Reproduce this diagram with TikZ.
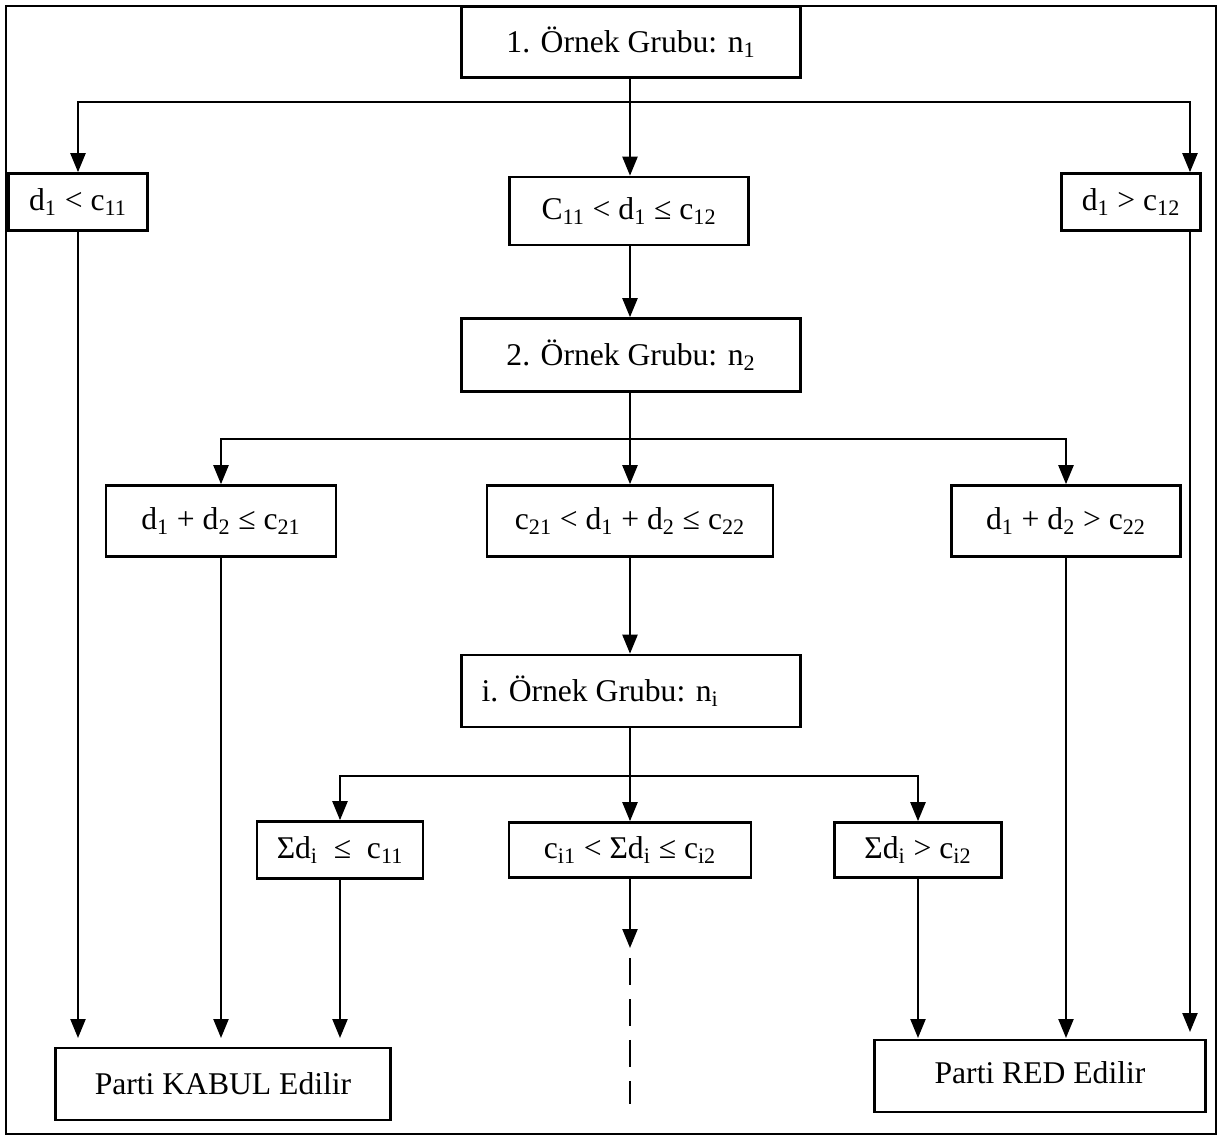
\documentclass[tikz,border=0pt]{standalone}
\usepackage{fontspec}
\setmainfont{Liberation Serif}
\usetikzlibrary{arrows.meta}

\begin{document}
\begin{tikzpicture}[
            x = 0.02cm, y = -0.02cm,
            every node/.style = {draw, line width = 1.5pt, inner sep = 0pt, font = \fontsize{18}{21}\selectfont},
            arr/.style = {line width = 1.3pt, -{Triangle[length = 0.38cm, width = 0.3cm]}},
            ]
            \useasboundingbox (0,0) rectangle (1221,1137);
            \draw[line width = 1.3pt] (6,6) rectangle (1216,1134);

            % first sample
            \node[minimum width = 6.78cm, minimum height = 1.42cm] (n1) at (631,42) {1. Örnek Grubu: n\textsubscript{1}};
            \node[minimum width = 2.78cm, minimum height = 1.14cm] (d1lo) at (78,202) {d\textsubscript{1} < c\textsubscript{11}};
            \node[minimum width = 4.78cm, minimum height = 1.36cm] (d1mid) at (629,211) {C\textsubscript{11} < d\textsubscript{1} ≤ c\textsubscript{12}};
            \node[minimum width = 2.78cm, minimum height = 1.14cm] (d1hi) at (1131,202) {d\textsubscript{1} > c\textsubscript{12}};

            % second sample
            \node[minimum width = 6.78cm, minimum height = 1.46cm] (n2) at (631,355) {2. Örnek Grubu: n\textsubscript{2}};
            \node[minimum width = 4.6cm, minimum height = 1.42cm] (d2lo) at (221,521) {d\textsubscript{1} + d\textsubscript{2} ≤ c\textsubscript{21}};
            \node[minimum width = 5.72cm, minimum height = 1.42cm] (d2mid) at (630,521) {c\textsubscript{21} < d\textsubscript{1} + d\textsubscript{2} ≤ c\textsubscript{22}};
            \node[minimum width = 4.58cm, minimum height = 1.42cm] (d2hi) at (1066,521) {d\textsubscript{1} + d\textsubscript{2} > c\textsubscript{22}};

            % i-th sample
            \node[minimum width = 6.78cm, minimum height = 1.44cm] (ni) at (631,691) {\makebox[5.98cm][l]{i. Örnek Grubu: n\textsubscript{i}}};
            \node[minimum width = 3.32cm, minimum height = 1.14cm] (dilo) at (340,850) {Σd\textsubscript{i} \ ≤ \ c\textsubscript{11}};
            \node[minimum width = 4.84cm, minimum height = 1.1cm] (dimid) at (630,850) {c\textsubscript{i1} < Σd\textsubscript{i} ≤ c\textsubscript{i2}};
            \node[minimum width = 3.34cm, minimum height = 1.1cm] (dihi) at (918,850) {Σd\textsubscript{i} > c\textsubscript{i2}};

            % results
            \node[minimum width = 6.7cm, minimum height = 1.44cm] (kabul) at (223,1084) {Parti KABUL Edilir};
            \node[minimum width = 6.62cm, minimum height = 1.44cm] (red) at (1040,1076) {\raisebox{0.15cm}{Parti RED Edilir}};

            \coordinate (b1) at (630,102);
            \coordinate (b2) at (630,439);
            \coordinate (b3) at (630,776);
            \coordinate (tip) at (630,1038);
            \coordinate (more) at (630,948);

            \draw[arr] (n1.south -| b1) -- (d1mid.north -| b1);
            \draw[arr] (b1) -| (d1lo.north);
            \draw[arr] (b1) -| ([xshift = 1.18cm]d1hi.north);
            \draw[arr] (d1mid.south -| b2) -- (n2.north -| b2);

            \draw[arr] (n2.south -| b2) -- (d2mid.north -| b2);
            \draw[arr] (b2) -| (d2lo.north);
            \draw[arr] (b2) -| (d2hi.north);
            \draw[arr] (d2mid.south -| b3) -- (ni.north -| b3);

            \draw[arr] (ni.south -| b3) -- (dimid.north -| b3);
            \draw[arr] (b3) -| (dilo.north);
            \draw[arr] (b3) -| (dihi.north);
            \draw[arr] (dimid.south -| more) -- (more);
            \draw[line width = 1.1pt, dash pattern = on 0.54cm off 0.28cm] ([yshift = -0.2cm]more) -- ([yshift = 0.34cm]more |- kabul.south);

            % into accept / reject
            \draw[arr] (d1lo.south) -- (d1lo.south |- tip);
            \draw[arr] (d2lo.south) -- (d2lo.south |- tip);
            \draw[arr] (dilo.south) -- (dilo.south |- tip);
            \draw[arr] (dihi.south) -- (dihi.south |- tip);
            \draw[arr] (d2hi.south) -- (d2hi.south |- tip);
            \draw[arr] ([xshift = 1.18cm]d1hi.south) -- ([xshift = 1.18cm, yshift = 0.12cm]d1hi.south |- tip);
\end{tikzpicture}
\end{document}
